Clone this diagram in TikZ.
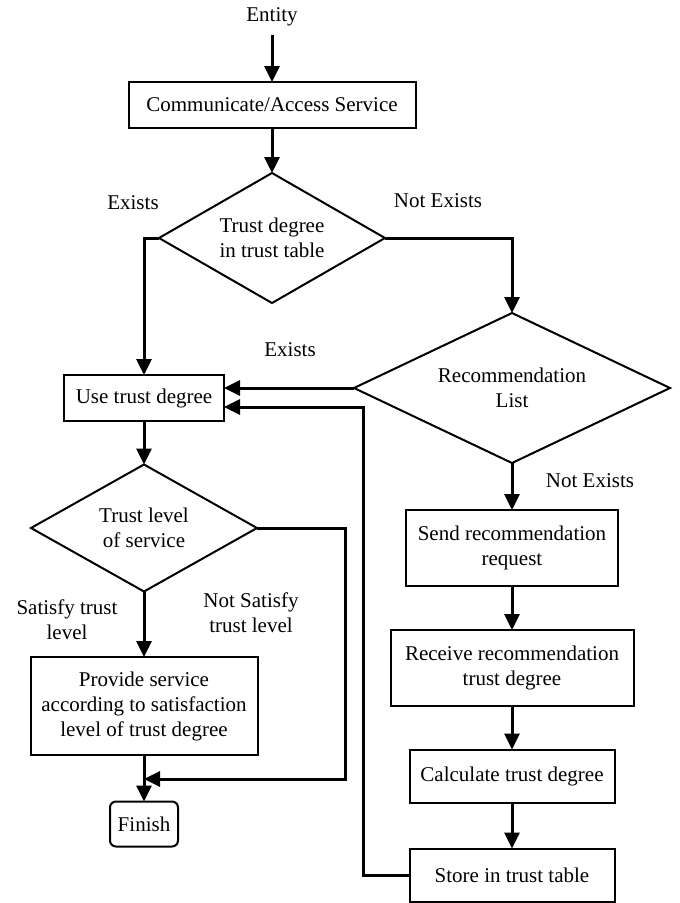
\documentclass[tikz,border=0pt]{standalone}
\usepackage{fontspec}
\setmainfont{Liberation Serif}
\usetikzlibrary{shapes.geometric,arrows.meta}
\begin{document}
\begin{tikzpicture}[x=1pt,y=-1pt,
  font=\fontsize{21}{25}\selectfont,
  box/.style={draw,line width=2pt,inner sep=0pt,outer sep=0pt,align=center},
  dia/.style={draw,diamond,line width=2pt,inner sep=0pt,outer sep=0pt,align=center},
  lbl/.style={align=center,inner sep=0pt},
  arr/.style={line width=3pt,-{Triangle[length=16pt,width=15pt]}},
  ln/.style={line width=3pt}]
\useasboundingbox (0,0) rectangle (680,903);

\node[lbl] (entity) at (272,17) {Entity};
\node[box,minimum width=287pt,minimum height=46pt] (comm) at (272,105) {Communicate/Access Service};
\node[dia,aspect=1.74,minimum width=226pt,minimum height=130pt] (d1) at (272,238) {Trust degree\\in trust table};
\node[box,minimum width=160pt,minimum height=46pt] (use) at (144,398) {Use trust degree};
\node[dia,aspect=2.1,minimum width=316pt,minimum height=150pt] (d2) at (512,388) {Recommendation\\List};
\node[dia,aspect=1.8,minimum width=226pt,minimum height=127pt] (d3) at (144,528) {Trust level\\of service};
\node[box,minimum width=227pt,minimum height=98pt] (prov) at (144,706) {Provide service\\according to satisfaction\\level of trust degree};
\node[box,rounded corners=6pt,minimum width=68pt,minimum height=45pt] (fin) at (144,824) {Finish};
\node[box,minimum width=212pt,minimum height=76pt] (send) at (512,548) {Send recommendation\\request};
\node[box,minimum width=243pt,minimum height=76pt] (recv) at (512,668) {Receive recommendation\\trust degree};
\node[box,minimum width=205pt,minimum height=53pt] (calc) at (512,776) {Calculate trust degree};
\node[box,minimum width=205pt,minimum height=53pt] (store) at (512,875) {Store in trust table};

\node[lbl] (l1) at (133,203) {Exists};
\node[lbl] (l2) at (438,201) {Not Exists};
\node[lbl] (l3) at (290,350) {Exists};
\node[lbl] (l4) at (590,481) {Not Exists};
\node[lbl] (l5) at (67,620) {Satisfy trust\\level};
\node[lbl] (l6) at (251,613) {Not Satisfy\\trust level};

\coordinate (estart) at (272,35);
\coordinate (fb) at (363,407);
\coordinate (ns) at (345,779);

\draw[arr] (estart) -- (comm.north);
\draw[arr] (comm.south) -- (d1.north);
\draw[arr] (d1.west) -| (use.north);
\draw[arr] (d1.east) -| (d2.north);
\draw[arr] (d2.west) -- (use.east |- d2.west);
\draw[arr] (store.west) -| (fb) -- (use.east |- fb);
\draw[arr] (use.south) -- (d3.north);
\draw[arr] (d3.south) -- (prov.north);
\draw[arr] (d3.east) -| (ns) -- (prov.south |- ns);
\draw[arr] (prov.south) -- (fin.north);
\draw[arr] (d2.south) -- (send.north);
\draw[arr] (send.south) -- (recv.north);
\draw[arr] (recv.south) -- (calc.north);
\draw[arr] (calc.south) -- (store.north);
\end{tikzpicture}
\end{document}
